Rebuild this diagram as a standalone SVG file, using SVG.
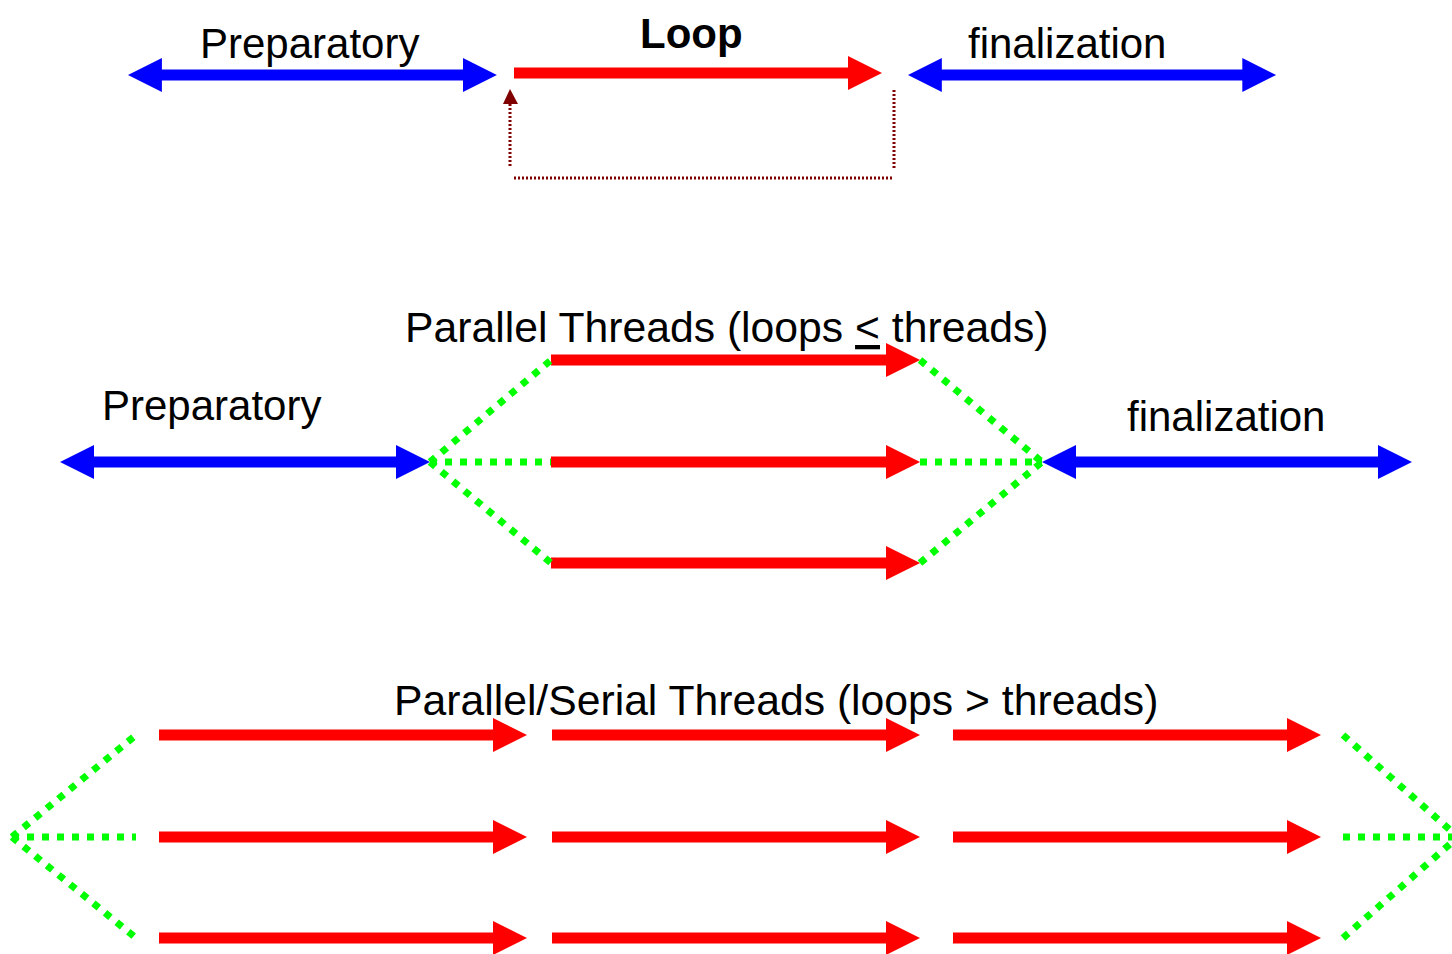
<svg xmlns="http://www.w3.org/2000/svg" xmlns:xlink="http://www.w3.org/1999/xlink" width="1452" height="954" viewBox="0 0 1452 954">
  <style>
    .lbl { font-family: "Liberation Sans", Arial, sans-serif; font-size: 42px; fill: #000; }
    .title { font-size: 42.7px; }
    .bold { font-weight: bold; }
    .red { fill: #FF0000; }
    .blue { fill: #0000FF; }
    .green { fill: none; stroke: #00FF00; stroke-width: 7; stroke-dasharray: 7 8; }
    .loopback { fill: none; stroke: #800000; stroke-width: 3; stroke-dasharray: 2 2; }
  </style>
  <defs>
    <path id="ra" d="M0,-5.5 H334 V-17 L368,0 L334,17 V5.5 H0 Z"/>
    <path id="ba" d="M0,0 L34,-17 V-5.5 H336 V-17 L370,0 L336,17 V5.5 H34 V17 Z"/>
  </defs>
  <rect width="1452" height="954" fill="#FFFFFF"/>

  <!-- Top row -->
  <g id="top-preparatory">
    <use xlink:href="#ba" class="blue" transform="translate(128,75) scale(0.997,1)"/>
    <text class="lbl" x="200" y="58">Preparatory</text>
  </g>
  <g id="top-loop">
    <use xlink:href="#ra" class="red" transform="translate(514,73)"/>
    <text class="lbl bold" x="640" y="48">Loop</text>
  </g>
  <g id="top-finalization">
    <use xlink:href="#ba" class="blue" transform="translate(908,75) scale(0.995,1)"/>
    <text class="lbl" x="968" y="58">finalization</text>
  </g>

  <!-- Middle row -->
  <g id="mid-title">
    <text class="lbl title" x="405" y="342">Parallel Threads (loops <tspan style="text-decoration:underline">&lt;</tspan> threads)</text>
  </g>
  <g id="mid-preparatory">
    <use xlink:href="#ba" class="blue" transform="translate(60,462)"/>
    <text class="lbl" x="102" y="420">Preparatory</text>
  </g>
  <g id="mid-threads">
    <use xlink:href="#ra" class="red" transform="translate(551,360) scale(1.003,1)"/>
    <use xlink:href="#ra" class="red" transform="translate(551,462) scale(1.003,1)"/>
    <use xlink:href="#ra" class="red" transform="translate(551,563) scale(1.003,1)"/>
  </g>
  <g id="mid-finalization">
    <use xlink:href="#ba" class="blue" transform="translate(1042,462)"/>
    <text class="lbl" x="1127" y="431">finalization</text>
  </g>

  <!-- Bottom row -->
  <g id="bottom-title">
    <text class="lbl title" x="394" y="715">Parallel/Serial Threads (loops &gt; threads)</text>
  </g>
  <g id="bottom-threads-1">
    <use xlink:href="#ra" class="red" transform="translate(159,735)"/>
    <use xlink:href="#ra" class="red" transform="translate(159,837)"/>
    <use xlink:href="#ra" class="red" transform="translate(159,938)"/>
  </g>
  <g id="bottom-threads-2">
    <use xlink:href="#ra" class="red" transform="translate(552,735)"/>
    <use xlink:href="#ra" class="red" transform="translate(552,837)"/>
    <use xlink:href="#ra" class="red" transform="translate(552,938)"/>
  </g>
  <g id="bottom-threads-3">
    <use xlink:href="#ra" class="red" transform="translate(953,735)"/>
    <use xlink:href="#ra" class="red" transform="translate(953,837)"/>
    <use xlink:href="#ra" class="red" transform="translate(953,938)"/>
  </g>

  <!-- Connectors -->
  <g id="connectors">
    <path class="loopback" d="M510,104 V167 M514,178 H894 M894,168 V89"/>
    <polygon points="510,89 518,104 503,104" fill="#800000"/>

    <path class="green" d="M430,462 L551,360 M430,462 H551 M430,462 L551,563"/>
    <path class="green" d="M920,360 L1042,462 M920,462 H1042 M920,563 L1042,462"/>

    <path class="green" d="M12,837 L136,735 M12,837 H136 M12,837 L136,938"/>
    <path class="green" d="M1343,735 L1458,837 M1343,837 H1458 M1343,938 L1458,837"/>
  </g>
</svg>
